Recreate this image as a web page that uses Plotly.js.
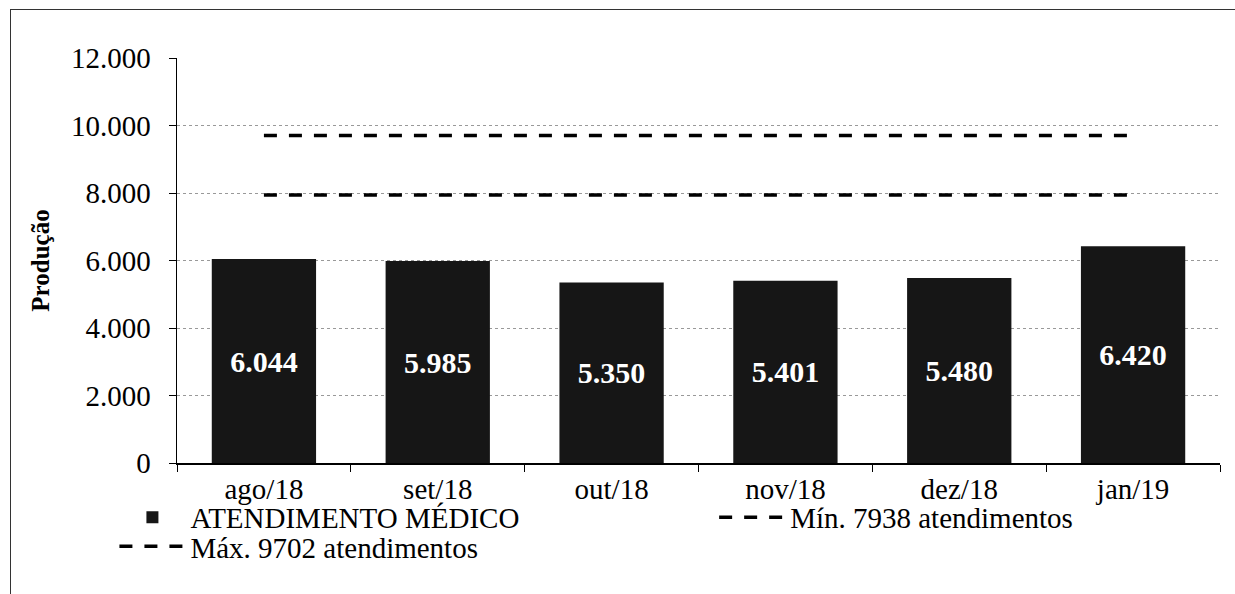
<!DOCTYPE html>
<html><head><meta charset="utf-8">
<script src="https://cdn.plot.ly/plotly-3.0.1.min.js"></script>
<style>
body{margin:0;background:#fff;}
#chart{position:absolute;left:0;top:0;width:1235px;height:594px;}
#frame{position:absolute;left:10px;top:9px;width:1240px;height:600px;border-left:1.5px solid #333;border-top:1.5px solid #333;pointer-events:none;}
</style></head>
<body>
<div id="chart"></div>
<div id="frame"></div>
<script>
const categories = ['ago/18','set/18','out/18','nov/18','dez/18','jan/19'];
const atendimentos = [6044, 5985, 5350, 5401, 5480, 6420];
const minimo = [7938, 7938, 7938, 7938, 7938, 7938];
const maximo = [9702, 9702, 9702, 9702, 9702, 9702];
const yTicks = [0, 2000, 4000, 6000, 8000, 10000, 12000];
const seriesNames = ['ATENDIMENTO MÉDICO', 'Mín. 7938 atendimentos', 'Máx. 9702 atendimentos'];

const serif = 'Liberation Serif';

const traces = [
  {type:'bar', x:categories, y:atendimentos, name:seriesNames[0], legend:'legend',
   marker:{color:'#161616'}, width:0.6,
   texttemplate:'<b>%{y:,d}</b>', textposition:'inside', insidetextanchor:'middle',
   textfont:{family:serif, size:30, color:'#ffffff'}, hoverinfo:'skip'},
  {type:'scatter', mode:'lines', x:categories, y:minimo, name:seriesNames[1], legend:'legend2',
   line:{color:'#000', width:3.5, dash:'13px,12px'}},
  {type:'scatter', mode:'lines', x:categories, y:maximo, name:seriesNames[2], legend:'legend3',
   line:{color:'#000', width:3.5, dash:'13px,12px'}}
];

const legFont = {family:serif, size:29, color:'#000'};
const legBase = {orientation:'v', xanchor:'left', yref:'container', yanchor:'top',
                 itemwidth:66, bgcolor:'rgba(0,0,0,0)', font:legFont};
const layout = {
  width:1235, height:594,
  margin:{l:177, r:15, t:58, b:131},
  paper_bgcolor:'#fff', plot_bgcolor:'#fff',
  separators:',.',
  font:{family:serif, size:29, color:'#000'},
  bargap:0.4,
  showlegend:true,
  legend:Object.assign({}, legBase, {x:-0.06, y:0.172}),
  legend2:Object.assign({}, legBase, {x:0.515, y:0.172}),
  legend3:Object.assign({}, legBase, {x:-0.06, y:0.123}),
  xaxis:{type:'category', showline:true, linecolor:'#000', linewidth:1.5,
         ticks:'outside', tickson:'boundaries', ticklen:7, tickcolor:'#000',
         ticklabelstandoff:0,
         tickfont:{family:serif, size:29}, showgrid:false},
  yaxis:{range:[0,12000], tickvals:yTicks, tickformat:',d',
         showline:true, linecolor:'#000', linewidth:1.5,
         ticks:'outside', ticklen:7, tickcolor:'#000', ticklabelstandoff:12,
         showgrid:true, gridcolor:'#999', griddash:'dot', gridwidth:1,
         zeroline:false, tickfont:{family:serif, size:29},
         title:{text:'<b>Produção</b>', font:{family:serif, size:25}, standoff:14}}
};

Plotly.newPlot('chart', traces, layout, {displayModeBar:false, staticPlot:true});
</script>
</body></html>
